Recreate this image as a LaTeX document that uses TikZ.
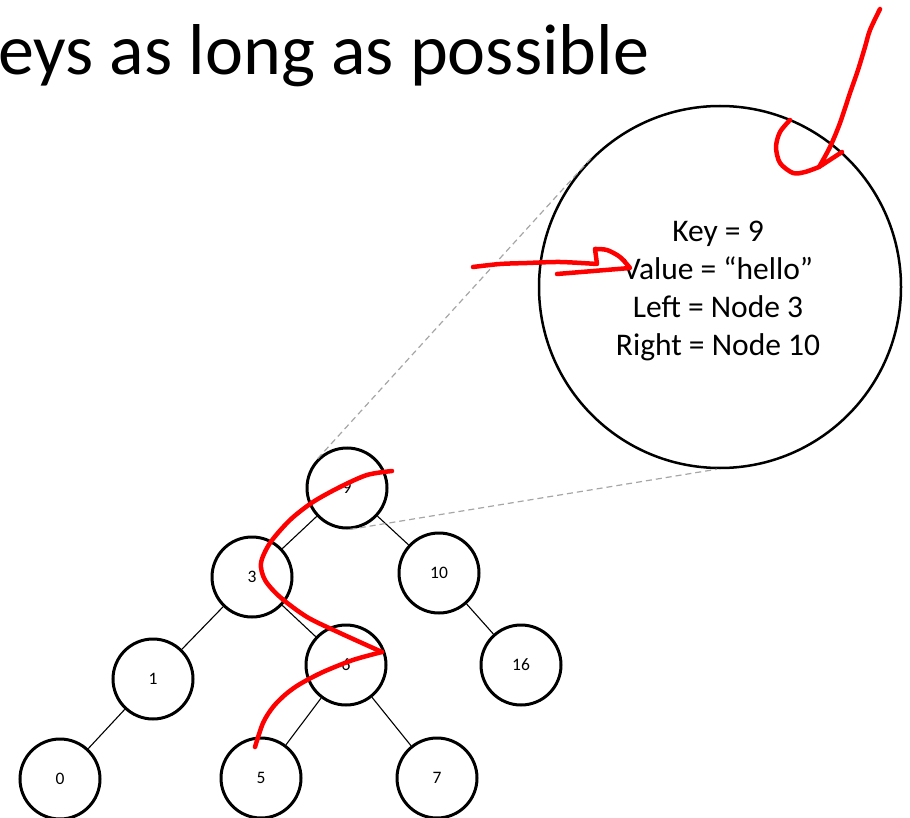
\documentclass[tikz,border=0pt]{standalone}
\usepackage{fontspec}
\setmainfont{Carlito}

\begin{document}
\begin{tikzpicture}[x=1pt,y=-1pt,
    treenode/.style={draw,circle,line width=3pt,minimum size=80pt,inner sep=0pt,font=\fontsize{17.5}{21}\selectfont},
    treeedge/.style={line width=1.1pt},
    zoomline/.style={draw=black!35,line width=1.2pt,dash pattern=on 6pt off 4pt},
    ink/.style={red,line width=4.5pt,line cap=round,line join=round}]
        \useasboundingbox (0,0) rectangle (910,818);
        \node[anchor=base west,inner sep=0pt,font=\fontsize{72}{80}\selectfont] (title) at (-2,75) {eys as long as possible};
        % zoomed node
        \node[draw,circle,line width=2.5pt,minimum size=362pt,inner sep=0pt] (big) at (720,287) {};
        \node[align=center,font=\fontsize{31.5}{38}\selectfont] (info) at (718,291) {Key = 9\\Value = “hello”\\Left = Node 3\\Right = Node 10};
        % tree
        \node[treenode] (n9) at (347,488) {9};
        \node[treenode] (n3) at (252,577) {3};
        \node[treenode] (n10) at (439,573) {10};
        \node[treenode] (n1) at (153,679) {1};
        \node[treenode] (n6) at (346,665) {6};
        \node[treenode] (n16) at (521,665) {16};
        \node[treenode] (n0) at (60,779) {0};
        \node[treenode] (n5) at (261,778) {5};
        \node[treenode] (n7) at (437,778) {7};
        \draw[treeedge] (n9) -- (n3);
        \draw[treeedge] (n9) -- (n10);
        \draw[treeedge] (n3) -- (n1);
        \draw[treeedge] (n3) -- (n6);
        \draw[treeedge] (n10) -- (n16);
        \draw[treeedge] (n1) -- (n0);
        \draw[treeedge] (n6) -- (n5);
        \draw[treeedge] (n6) -- (n7);
        \draw[zoomline] (n9.135) -- (big.135);
        \draw[zoomline] (n9.-86) -- (big.-91);
        % red ink
        \draw[ink] plot[smooth] coordinates {(392,471) (367,475) (340,487) (313,502) (290,520) (270,543) (261,563) (265,580) (280,597) (307,617) (340,633) (382,652)};
        \draw[ink] plot[smooth] coordinates {(382,652) (353,660) (323,672) (300,684) (286,694) (273,707) (263,723) (255,747)};
        \draw[ink] plot[smooth] coordinates {(473,267) (500,264) (527,263) (560,262) (597,264)} -- (595,249) plot[smooth] coordinates {(595,249) (607,250) (620,257) (630,268)} -- (557,274);
        \draw[ink] plot[smooth] coordinates {(880,9) (870,30) (865,47) (858,70) (850,93) (840,123) (830,147) (819,167)} -- (842,152);
        \draw[ink] plot[smooth] coordinates {(790,120) (780,132) (776,147) (780,163) (793,173) (805,172) (819,167)};
    \end{tikzpicture}
\end{document}
